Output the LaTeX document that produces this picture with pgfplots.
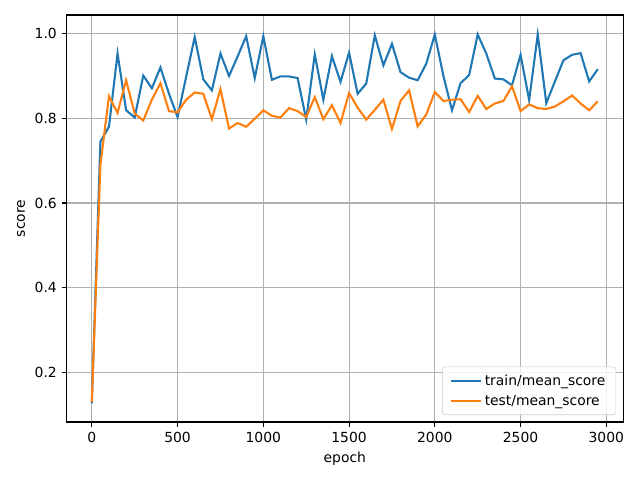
\documentclass[border=0pt]{standalone}
\usepackage{fontspec}
\setmainfont{DejaVu Sans}
\usepackage{pgfplots}
\usepackage{pgfplotstable}
\pgfplotsset{compat=1.18}

\definecolor{mplblue}{HTML}{1F77B4}
\definecolor{mplorange}{HTML}{FF7F0E}
\definecolor{mplgrid}{HTML}{B0B0B0}
\definecolor{mpllegend}{HTML}{CCCCCC}

\pgfplotstableread{
epoch train test
0    0.127 0.130
50   0.745 0.690
100  0.780 0.852
150  0.953 0.813
200  0.819 0.890
250  0.802 0.811
300  0.901 0.795
350  0.871 0.844
400  0.920 0.883
450  0.858 0.817
500  0.803 0.814
550  0.898 0.844
600  0.992 0.861
650  0.892 0.858
700  0.866 0.798
750  0.953 0.869
800  0.900 0.776
850  0.946 0.789
900  0.994 0.780
950  0.895 0.799
1000 0.994 0.819
1050 0.891 0.806
1100 0.899 0.802
1150 0.899 0.824
1200 0.895 0.817
1250 0.797 0.803
1300 0.951 0.850
1350 0.844 0.798
1400 0.947 0.831
1450 0.886 0.789
1500 0.955 0.860
1550 0.858 0.825
1600 0.882 0.797
1650 0.996 0.820
1700 0.925 0.844
1750 0.976 0.775
1800 0.909 0.841
1850 0.896 0.866
1900 0.890 0.781
1950 0.929 0.809
2000 0.998 0.862
2050 0.900 0.841
2100 0.819 0.844
2150 0.883 0.845
2200 0.902 0.815
2250 0.998 0.853
2300 0.953 0.822
2350 0.894 0.835
2400 0.892 0.841
2450 0.878 0.876
2500 0.950 0.817
2550 0.843 0.833
2600 0.998 0.824
2650 0.836 0.822
2700 0.887 0.828
2750 0.937 0.840
2800 0.950 0.854
2850 0.954 0.835
2900 0.887 0.819
2950 0.916 0.840
}\scores

\begin{document}
\begin{tikzpicture}
\begin{axis}[
    name=ax,
    scale only axis,
    width=400.7pt, height=293pt,
    xmin=-147.5, xmax=3097.5,
    ymin=0.083, ymax=1.044,
    xtick={0,500,...,3000},
    ytick={0.2,0.4,0.6,0.8,1.0},
    yticklabel style={/pgf/number format/.cd, fixed, fixed zerofill, precision=1},
    /pgf/number format/1000 sep={},
    /pgf/number format/assume math mode=true,
    tick pos=left,
    tick align=outside,
    major tick length=3.5pt,
    every tick/.style={black, line width=0.8pt},
    axis line style={line width=0.8pt},
    grid=major,
    major grid style={mplgrid, line width=0.8pt},
    tick label style={font=\fontsize{10}{12}\selectfont},
    label style={font=\fontsize{10}{12}\selectfont},
    xlabel={epoch},
    ylabel={score},
    legend style={
        at={(1,0)}, anchor=south east, xshift=-5pt, yshift=5pt,
        draw=mpllegend, rounded corners=2pt, fill=white, fill opacity=0.8, text opacity=1,
        font=\fontsize{10}{12}\selectfont, row sep=1.5pt,
        inner xsep=5.5pt, inner ysep=3.5pt,
    },
    legend cell align=left,
    legend image code/.code={\draw[#1] (0cm,0cm) -- (21.6pt,0cm);},
]
\addplot[mplblue, line width=1.5pt] table[x=epoch, y=train] {\scores};
\addlegendentry{train/mean\_score}
\addplot[mplorange, line width=1.5pt] table[x=epoch, y=test] {\scores};
\addlegendentry{test/mean\_score}
\end{axis}
\useasboundingbox (ax.south west) ++(-47.9pt,-41.8pt) rectangle ++(460.8pt,345.6pt);
\end{tikzpicture}
\end{document}
